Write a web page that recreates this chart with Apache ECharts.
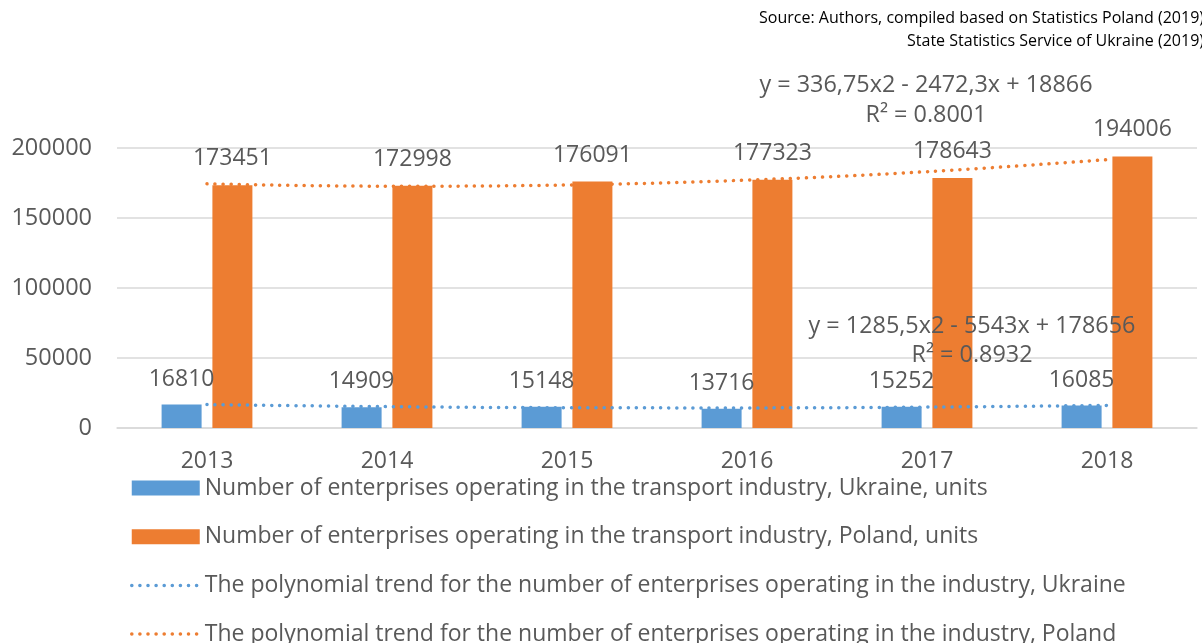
<!DOCTYPE html>
<html><head><meta charset="utf-8">
<script src="https://cdn.jsdelivr.net/npm/echarts@6/dist/echarts.min.js"></script>
<style>html,body{margin:0;padding:0;background:#fff}#c{width:1202px;height:643px}</style>
</head><body><div id="c"></div>
<script>
var years = ['2013','2014','2015','2016','2017','2018'];
var ukraine = [16810, 14909, 15148, 13716, 15252, 16085];
var poland = [173451, 172998, 176091, 177323, 178643, 194006];
// trend values read from the printed trend equations
var ukraineTrend = [16730, 15268, 14480, 14365, 14923, 16155];
var polandTrend = [174399, 172712, 173597, 177052, 183079, 191676];
var yTicks = [0, 50000, 100000, 150000, 200000];
var names = [
  'Number of enterprises operating in the transport industry, Ukraine, units',
  'Number of enterprises operating in the transport industry, Poland, units',
  'The polynomial trend for the number of enterprises operating in the industry, Ukraine',
  'The polynomial trend for the number of enterprises operating in the industry, Poland'
];
var FONT = 'Open Sans';
var TXT = '#595959';
var BLUE = '#5B9BD5', ORANGE = '#ED7D31';
var DOT = [0.1, 8];
var chart = echarts.init(document.getElementById('c'));
function txt(s, x, y, size, fill, align) {
  return {type: 'text', z: 100, style: {text: s, x: x, y: y, fontSize: size, fill: fill, fontFamily: FONT, align: align, verticalAlign: 'middle'}};
}
chart.setOption({
  animation: false,
  textStyle: {fontFamily: FONT},
  grid: {left: 117, right: 5, top: 148, bottom: 215},
  xAxis: {
    type: 'category', data: years,
    axisLine: {lineStyle: {color: '#d9d9d9', width: 1.5}},
    axisTick: {show: false},
    axisLabel: {color: TXT, fontSize: 23, margin: 22, fontFamily: FONT}
  },
  yAxis: {
    type: 'value', min: yTicks[0], max: yTicks[yTicks.length-1], interval: 50000,
    axisLine: {show: false}, axisTick: {show: false},
    splitLine: {lineStyle: {color: '#d9d9d9', width: 1.5}},
    axisLabel: {color: TXT, fontSize: 23.5, margin: 25, fontFamily: FONT, formatter: function (v) { return String(v); }}
  },
  legend: {
    orient: 'vertical', left: 130, top: 475, height: 220, padding: 0,
    itemWidth: 68, itemHeight: 15, itemGap: 22.7,
    textStyle: {color: TXT, fontSize: 23, lineHeight: 26, fontFamily: FONT},
    data: [
      {name: names[0], icon: 'rect'},
      {name: names[1], icon: 'rect'},
      {name: names[2], itemStyle: {opacity: 0}, lineStyle: {width: 3.5, type: DOT, cap: 'round', color: BLUE}},
      {name: names[3], itemStyle: {opacity: 0}, lineStyle: {width: 3.5, type: DOT, cap: 'round', color: ORANGE}}
    ]
  },
  series: [
    {name: names[0], type: 'bar', data: ukraine, barWidth: 40, barGap: '27%',
     itemStyle: {color: BLUE},
     label: {show: true, position: 'top', distance: 14, color: TXT, fontSize: 23, fontFamily: FONT}},
    {name: names[1], type: 'bar', data: poland, barWidth: 40, barGap: '27%',
     itemStyle: {color: ORANGE},
     label: {show: true, position: 'top', distance: 15, color: TXT, fontSize: 23, fontFamily: FONT}},
    {name: names[2], type: 'line', data: ukraineTrend, smooth: 0.4, symbol: 'none', z: 5,
     itemStyle: {color: BLUE},
     lineStyle: {color: BLUE, width: 3.5, type: DOT, cap: 'round'}},
    {name: names[3], type: 'line', data: polandTrend, smooth: 0.4, symbol: 'none', z: 5,
     itemStyle: {color: ORANGE},
     lineStyle: {color: ORANGE, width: 3.5, type: DOT, cap: 'round'}}
  ],
  graphic: [
    txt('Source: Authors, compiled based on Statistics Poland (2019)', 1204, 18, 16, '#000', 'right'),
    txt('State Statistics Service of Ukraine (2019)', 1204, 41, 16, '#000', 'right'),
    txt('y = 336,75x2 - 2472,3x + 18866', 926, 85, 23.4, TXT, 'center'),
    txt('R² = 0.8001', 926, 115, 23.4, TXT, 'center'),
    txt('y = 1285,5x2 - 5543x + 178656', 972, 326, 23.4, TXT, 'center'),
    txt('R² = 0.8932', 972, 355, 23.4, TXT, 'center')
  ]
});
</script></body></html>
